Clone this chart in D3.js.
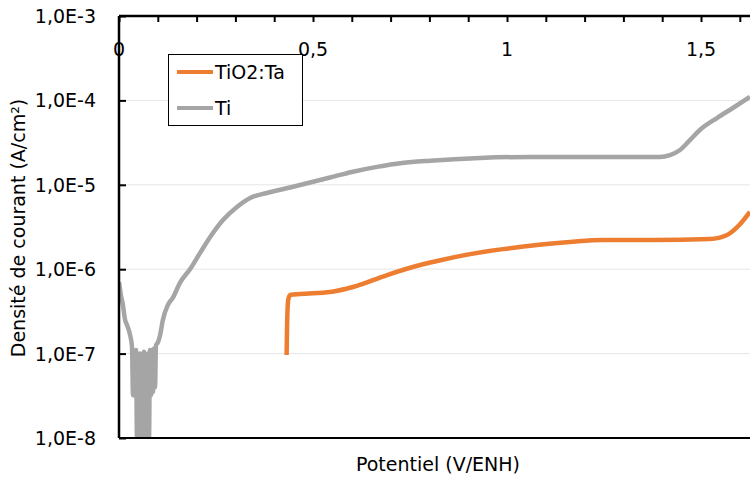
<!DOCTYPE html>
<html><head><meta charset="utf-8">
<script src="https://cdn.jsdelivr.net/npm/d3@7"></script>
<style>body{margin:0;background:#fff}svg{display:block;font-family:"DejaVu Sans",sans-serif}</style>
</head><body><svg id="c" width="750" height="477"></svg>
<script>
// Data (potential V/ENH, current density A/cm²)
const tiX = [0,0.005,0.010,0.015,0.022,0.028,
  0.0335,0.0361,0.0387,0.0412,0.0438,0.0464,0.0490,0.0515,0.0541,0.0567,0.0593,0.0619,0.0644,0.0670,0.0696,0.0722,0.0747,0.0773,0.0799,0.0825,0.0851,0.0876,0.0902,0.0928,0.0954,
  0.100,0.106,0.113,0.126,0.139,0.157,0.183,0.209,0.235,0.268,0.304,0.338,0.381,0.441,0.544,0.600,0.665,0.730,0.802,0.930,1.059,1.240,1.394,1.420,1.446,1.472,1.497,1.541,1.582,1.626];
const tiY = [7.05e-7,4.9e-7,3.8e-7,2.6e-7,2.1e-7,1.7e-7,
  1.2e-7,3.2e-8,1.0e-7,3.2e-8,1.1e-7,1e-8,9e-8,1e-8,1e-7,1e-8,9e-8,1e-8,1.05e-7,1e-8,9e-8,1e-8,1e-7,1e-8,1.1e-7,3.2e-8,1.1e-7,3.5e-8,1.15e-7,4e-8,1.25e-7,
  1.35e-7,1.66e-7,2.5e-7,3.77e-7,4.6e-7,6.9e-7,1.0e-6,1.56e-6,2.41e-6,3.83e-6,5.46e-6,6.98e-6,8.0e-6,9.3e-6,1.22e-5,1.42e-5,1.63e-5,1.81e-5,1.93e-5,2.08e-5,2.14e-5,2.14e-5,2.14e-5,2.25e-5,2.58e-5,3.4e-5,4.46e-5,6.18e-5,8.13e-5,1.10e-4];
const taX = [0.432,0.433,0.436,0.441,0.466,0.544,0.603,0.691,0.776,0.820,0.905,0.990,1.077,1.162,1.247,1.376,1.523,1.567,1.601,1.626];
const taY = [9.6e-8,1.9e-7,4.3e-7,4.94e-7,5.08e-7,5.37e-7,6.15e-7,8.53e-7,1.12e-6,1.25e-6,1.51e-6,1.73e-6,1.94e-6,2.10e-6,2.22e-6,2.22e-6,2.28e-6,2.54e-6,3.43e-6,4.77e-6];
const seriesNames = ["TiO2:Ta","Ti"];
const seriesColors = ["#ED7D31","#A5A5A5"];
const xTicks = [0,0.5,1,1.5];
const xTickLabels = ["0","0,5","1","1,5"];
const yTicks = [1e-3,1e-4,1e-5,1e-6,1e-7,1e-8];
const yTickLabels = ["1,0E-3","1,0E-4","1,0E-5","1,0E-6","1,0E-7","1,0E-8"];

const svg = d3.select("#c");
const x = d3.scaleLinear().domain([0,1]).range([119,507]);
const y = d3.scaleLog().domain([1e-8,1e-3]).range([438,16]);
const W = 750;

// gridlines
svg.append("g").selectAll("line").data(yTicks.slice(1,5)).join("line")
  .attr("x1",119).attr("x2",W).attr("y1",d=>y(d)).attr("y2",d=>y(d))
  .attr("stroke","#e6e6e6").attr("stroke-width",1);

svg.append("defs").append("clipPath").attr("id","cp").append("rect")
  .attr("x",119).attr("y",16).attr("width",W-119).attr("height",422);

const line = d3.line().x(d=>x(d[0])).y(d=>y(d[1])).curve(d3.curveMonotoneX);
const g = svg.append("g").attr("clip-path","url(#cp)");
g.append("path").datum(tiX.map((v,i)=>[v,tiY[i]])).attr("d",line)
  .attr("fill","none").attr("stroke",seriesColors[1]).attr("stroke-width",4.5).attr("stroke-linejoin","round");
g.append("path").datum(taX.map((v,i)=>[v,taY[i]])).attr("d",line)
  .attr("fill","none").attr("stroke",seriesColors[0]).attr("stroke-width",4.5).attr("stroke-linejoin","round");

// bottom border
svg.append("line").attr("x1",119).attr("x2",W).attr("y1",y(1e-8)).attr("y2",y(1e-8)).attr("stroke","#000").attr("stroke-width",2);

// y axis
const yAxis = d3.axisRight(y).tickValues(yTicks).tickSize(7).tickFormat(()=> "");
const gy = svg.append("g").attr("transform","translate(119,0)").call(yAxis);
gy.select(".domain").attr("stroke","#000").attr("stroke-width",2.5).attr("d","M0,16V438");
gy.selectAll(".tick line").attr("stroke","#000").attr("stroke-width",2);
svg.append("g").selectAll("text").data(yTicks).join("text")
  .attr("x",96).attr("y",d=>y(d)+7).attr("text-anchor","end")
  .attr("font-size",19).attr("fill","#000").text((d,i)=>yTickLabels[i]);

// x axis at top
const minor = d3.range(0,17).map(i=>i/10);
const xAxis = d3.axisBottom(x).tickValues(minor).tickSize(6).tickFormat(()=> "");
const gx = svg.append("g").attr("transform","translate(0,16)").call(xAxis);
gx.select(".domain").attr("stroke","#000").attr("stroke-width",2.5).attr("d","M119,0H750");
gx.selectAll(".tick line").attr("stroke","#000").attr("stroke-width",2);
svg.append("g").selectAll("text").data(xTicks).join("text")
  .attr("x",d=>x(d)).attr("y",56).attr("text-anchor","middle")
  .attr("font-size",19).attr("fill","#000").text((d,i)=>xTickLabels[i]);

// titles
svg.append("text").attr("x",438).attr("y",471).attr("text-anchor","middle")
  .attr("font-size",19).text("Potentiel (V/ENH)");
svg.append("text").attr("transform","translate(25,228) rotate(-90)").attr("text-anchor","middle")
  .attr("font-size",19).text("Densité de courant (A/cm²)");

// legend
const lg = svg.append("g");
lg.append("rect").attr("x",168.5).attr("y",54.5).attr("width",134).attr("height",71)
  .attr("fill","#fff").attr("stroke","#000").attr("stroke-width",1);
seriesNames.forEach((n,i)=>{
  const yy = 72 + i*36;
  lg.append("line").attr("x1",177).attr("x2",213).attr("y1",yy).attr("y2",yy)
    .attr("stroke",seriesColors[i]).attr("stroke-width",4);
  lg.append("text").attr("x",215).attr("y",yy+7).attr("font-size",19).text(n);
});
</script></body></html>
